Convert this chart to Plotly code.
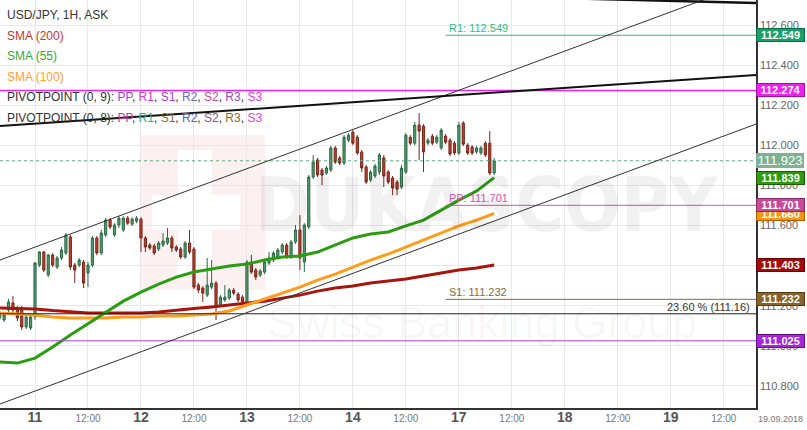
import plotly.graph_objects as go

# ---------------- data ----------------
# candle positions: trading hours since 11.09.2018 00:00 (weekend gap removed)
hours = list(range(-8, 105))
opens = [111.139, 111.129, 111.179, 111.214, 111.189, 111.189, 111.094, 111.089,
         111.144, 111.403, 111.468, 111.353, 111.453, 111.393, 111.438, 111.463, 111.543, 111.403,
         111.403, 111.418, 111.363, 111.403, 111.538, 111.463, 111.553, 111.628, 111.553, 111.603,
         111.578, 111.637, 111.607, 111.622, 111.632, 111.538, 111.503, 111.498, 111.483, 111.503,
         111.513, 111.538, 111.493, 111.483, 111.443, 111.513, 111.483, 111.303, 111.288, 111.253,
         111.293, 111.313, 111.204, 111.229, 111.238, 111.278, 111.258, 111.243, 111.214, 111.418,
         111.378, 111.353, 111.368, 111.413, 111.428, 111.443, 111.468, 111.503, 111.443, 111.518,
         111.578, 111.418, 111.593, 111.842, 111.927, 111.877, 111.862, 111.877, 111.987, 111.937,
         111.912, 112.026, 112.066, 112.041, 111.967, 111.892, 111.827, 111.847, 111.867, 111.937,
         111.867, 111.837, 111.817, 111.792, 111.867, 112.041, 112.011, 112.101, 112.096, 112.011,
         112.046, 112.016, 111.987, 112.046, 112.026, 112.011, 111.962, 112.111, 112.001, 111.992,
         111.967, 111.962, 112.011, 112.011, 111.862]
highs = [111.169, 111.164, 111.234, 111.248, 111.199, 111.199, 111.154, 111.149,
         111.418, 111.473, 111.473, 111.458, 111.463, 111.448, 111.493, 111.563, 111.553, 111.413,
         111.438, 111.428, 111.418, 111.548, 111.548, 111.578, 111.637, 111.637, 111.612, 111.647,
         111.647, 111.647, 111.642, 111.647, 111.642, 111.548, 111.513, 111.508, 111.523, 111.563,
         111.588, 111.548, 111.503, 111.493, 111.523, 111.578, 111.493, 111.313, 111.298, 111.438,
         111.428, 111.323, 111.253, 111.303, 111.288, 111.288, 111.268, 111.253, 111.428, 111.453,
         111.388, 111.383, 111.428, 111.468, 111.473, 111.488, 111.513, 111.513, 111.528, 111.603,
         111.652, 111.612, 111.852, 111.952, 111.937, 111.887, 111.897, 111.997, 111.997, 111.947,
         112.051, 112.061, 112.076, 112.051, 111.977, 111.902, 111.877, 111.907, 111.962, 111.952,
         111.877, 111.847, 111.827, 111.902, 112.061, 112.051, 112.116, 112.161, 112.106, 112.036,
         112.056, 112.051, 112.086, 112.056, 112.036, 112.021, 112.116, 112.121, 112.011, 112.001,
         111.997, 111.997, 112.021, 112.071, 111.937]
lows = [111.129, 111.119, 111.169, 111.164, 111.124, 111.079, 111.084, 111.079,
        111.129, 111.393, 111.368, 111.343, 111.393, 111.383, 111.428, 111.453, 111.378, 111.313,
        111.393, 111.288, 111.293, 111.393, 111.453, 111.453, 111.543, 111.583, 111.543, 111.588,
        111.568, 111.603, 111.598, 111.612, 111.468, 111.468, 111.478, 111.453, 111.473, 111.493,
        111.503, 111.468, 111.468, 111.433, 111.433, 111.458, 111.283, 111.263, 111.219, 111.243,
        111.283, 111.129, 111.194, 111.219, 111.229, 111.253, 111.219, 111.209, 111.204, 111.358,
        111.328, 111.343, 111.358, 111.403, 111.418, 111.433, 111.458, 111.433, 111.433, 111.508,
        111.378, 111.368, 111.583, 111.832, 111.842, 111.802, 111.852, 111.867, 111.907, 111.902,
        111.902, 112.016, 112.001, 111.952, 111.867, 111.807, 111.817, 111.837, 111.852, 111.792,
        111.807, 111.752, 111.752, 111.782, 111.857, 112.001, 112.001, 111.927, 111.867, 112.001,
        112.001, 112.006, 111.977, 112.006, 111.947, 111.952, 111.952, 111.997, 111.952, 111.952,
        111.957, 111.952, 111.942, 111.852, 111.852]
closes = [111.164, 111.154, 111.219, 111.179, 111.139, 111.094, 111.144, 111.144,
          111.413, 111.468, 111.378, 111.453, 111.403, 111.438, 111.478, 111.553, 111.393, 111.378,
          111.428, 111.313, 111.403, 111.538, 111.463, 111.563, 111.628, 111.593, 111.603, 111.637,
          111.637, 111.612, 111.632, 111.637, 111.538, 111.493, 111.488, 111.463, 111.513, 111.523,
          111.538, 111.488, 111.478, 111.443, 111.513, 111.468, 111.293, 111.278, 111.263, 111.303,
          111.313, 111.194, 111.243, 111.243, 111.278, 111.263, 111.229, 111.219, 111.418, 111.368,
          111.343, 111.373, 111.418, 111.438, 111.463, 111.478, 111.503, 111.443, 111.518, 111.578,
          111.438, 111.603, 111.842, 111.917, 111.852, 111.852, 111.887, 111.987, 111.917, 111.912,
          112.041, 112.051, 112.011, 111.962, 111.887, 111.817, 111.867, 111.897, 111.952, 111.847,
          111.817, 111.787, 111.782, 111.887, 112.051, 112.011, 112.101, 112.071, 111.967, 112.026,
          112.011, 112.041, 112.076, 112.016, 111.957, 111.962, 112.101, 112.006, 111.962, 111.962,
          111.987, 111.987, 111.952, 111.862, 111.923]

sma_hours = list(range(-8, 105, 4))
sma200 = [111.189, 111.186, 111.184, 111.176, 111.169, 111.164, 111.164, 111.164, 111.164, 111.169,
          111.176, 111.186, 111.194, 111.204, 111.213, 111.223, 111.238, 111.253, 111.273, 111.288,
          111.298, 111.313, 111.323, 111.333, 111.348, 111.363, 111.378, 111.388, 111.403]
sma55 = [110.919, 110.914, 110.939, 110.994, 111.054, 111.109, 111.164, 111.223, 111.268, 111.308,
         111.343, 111.368, 111.383, 111.398, 111.408, 111.428, 111.443, 111.448, 111.468, 111.503,
         111.538, 111.558, 111.568, 111.598, 111.627, 111.677, 111.727, 111.772, 111.839]
sma100 = [111.164, 111.159, 111.154, 111.144, 111.139, 111.139, 111.139, 111.144, 111.144, 111.149,
          111.149, 111.154, 111.159, 111.174, 111.204, 111.233, 111.263, 111.293, 111.328, 111.358,
          111.393, 111.428, 111.458, 111.493, 111.528, 111.563, 111.598, 111.627, 111.660]

x_tick_hours = [0, 12, 24, 36, 48, 60, 72, 84, 96, 108, 120, 132, 144, 156]
x_tick_labels = ["11", "12:00", "12", "12:00", "13", "12:00", "14", "12:00",
                 "17", "12:00", "18", "12:00", "19", "12:00"]
y_ticks = [110.8, 111.0, 111.2, 111.4, 111.6, 111.8, 112.0, 112.2, 112.4, 112.6]

pivot_names = ["R1", "PP", "S1"]
pivot_values = [112.549, 111.701, 111.232]
pivot_colors = ["#2fbf82", "#d055ad", "#8b6a35"]
pivot_start_hour = 93

current_price = 111.923
level_magenta = 112.274
level_purple = 111.025
fib_value = 111.16
fib_label = "23.60 % (111.16)"
date_label = "19.09.2018"

# trend lines: prices at the left and right edge of the chart
channel_upper = [111.428, 112.823]
channel_lower = [110.710, 112.106]
thick_line = [112.096, 112.351]
top_line_hours = [100, 163.3]
top_line = [112.745, 112.710]

# right axis price tags: value, background, border
price_tags = [
    (112.549, "#17a06a", "#0d6a45"),
    (112.274, "#ee22ee", "#a010a0"),
    (111.839, "#2e9a0e", "#1b5e08"),
    (111.660, "#f7950f", "#a86000"),
    (111.701, "#c8489a", "#862a64"),
    (111.403, "#a50a0a", "#600000"),
    (111.232, "#87642b", "#553d15"),
    (111.025, "#a526d6", "#651090"),
]

legend_lines = [
    [("USD/JPY, 1H, ASK", "#333333")],
    [("SMA (200)", "#c8352a")],
    [("SMA (55)", "#3aa63a")],
    [("SMA (100)", "#ff9d2a")],
    [("PIVOTPOINT (0, 9): ", "#333333"), ("PP", "#a640e0"), (", ", "#333333"), ("R1", "#d23cc0"),
     (", ", "#333333"), ("S1", "#b040d8"), (", ", "#333333"), ("R2", "#6a6ad0"), (", ", "#333333"),
     ("S2", "#c84a9a"), (", ", "#333333"), ("R3", "#9050c0"), (", ", "#333333"), ("S3", "#e040e0")],
    [("PIVOTPOINT (0, 8): ", "#333333"), ("PP", "#c03c9a"), (", ", "#333333"), ("R1", "#20b080"),
     (", ", "#333333"), ("S1", "#8b6a35"), (", ", "#333333"), ("R2", "#5060c0"), (", ", "#333333"),
     ("S2", "#885088"), (", ", "#333333"), ("R3", "#8b6a35"), (", ", "#333333"), ("S3", "#e040e0")],
]

# ---------------- layout constants ----------------
W, H = 807, 430
ML, MR, MT, MB = 0, 51, 0, 22
PLOT_W = W - ML - MR
PLOT_H = H - MT - MB
XL, XR = -7.93, 163.3
YLO, YHI = 110.690, 112.725
FONT = 'Arial, "Liberation Sans", sans-serif'

fig = go.Figure()

# SMA lines
fig.add_trace(go.Scatter(x=sma_hours, y=sma200, mode="lines", line=dict(color="#a8140e", width=3),
                         hoverinfo="skip"))
fig.add_trace(go.Scatter(x=sma_hours, y=sma100, mode="lines", line=dict(color="#ff9c1a", width=3),
                         hoverinfo="skip"))
fig.add_trace(go.Scatter(x=sma_hours, y=sma55, mode="lines", line=dict(color="#2a9d12", width=3),
                         hoverinfo="skip"))

# candles
fig.add_trace(go.Candlestick(
    x=hours, open=opens, high=highs, low=lows, close=closes,
    increasing=dict(line=dict(color="#2d6a45", width=1), fillcolor="#4f9b6d"),
    decreasing=dict(line=dict(color="#7a2418", width=1), fillcolor="#b5412f"),
    whiskerwidth=0, hoverinfo="skip"))

shapes = []

# watermark (logo + text)
def px_to_paper(xp, yp):
    return xp / PLOT_W, 1 - yp / PLOT_H

x0, y0 = px_to_paper(140, 135)
x1, y1 = px_to_paper(265, 290)
shapes.append(dict(type="rect", xref="paper", yref="paper", x0=x0, x1=x1, y0=y1, y1=y0,
                   fillcolor="rgba(220,90,90,0.09)", line=dict(width=0), layer="below"))
x0, y0 = px_to_paper(178, 150)
x1, y1 = px_to_paper(212, 275)
shapes.append(dict(type="rect", xref="paper", yref="paper", x0=x0, x1=x1, y0=y1, y1=y0,
                   fillcolor="white", line=dict(width=0), layer="below"))
x0, y0 = px_to_paper(152, 195)
x1, y1 = px_to_paper(240, 230)
shapes.append(dict(type="rect", xref="paper", yref="paper", x0=x0, x1=x1, y0=y1, y1=y0,
                   fillcolor="white", line=dict(width=0), layer="below"))

# full width levels
shapes.append(dict(type="line", xref="paper", yref="y", x0=0, x1=1, y0=level_magenta, y1=level_magenta,
                   line=dict(color="#ee22ee", width=1.5)))
shapes.append(dict(type="line", xref="paper", yref="y", x0=0, x1=1, y0=level_purple, y1=level_purple,
                   line=dict(color="#a640d8", width=1)))
shapes.append(dict(type="line", xref="paper", yref="y", x0=0, x1=1, y0=fib_value, y1=fib_value,
                   line=dict(color="#222222", width=1)))
shapes.append(dict(type="line", xref="paper", yref="y", x0=0, x1=1, y0=current_price, y1=current_price,
                   line=dict(color="#5aaa7e", width=1, dash="dot")))

# pivot levels
for v, c in zip(pivot_values, pivot_colors):
    shapes.append(dict(type="line", xref="x", yref="y", x0=pivot_start_hour, x1=XR, y0=v, y1=v,
                       line=dict(color=c, width=1)))

# trend lines
shapes.append(dict(type="line", xref="x", yref="y", x0=XL, x1=XR, y0=channel_upper[0], y1=channel_upper[1],
                   line=dict(color="#333333", width=1)))
shapes.append(dict(type="line", xref="x", yref="y", x0=XL, x1=XR, y0=channel_lower[0], y1=channel_lower[1],
                   line=dict(color="#333333", width=1)))
shapes.append(dict(type="line", xref="x", yref="y", x0=XL, x1=XR, y0=thick_line[0], y1=thick_line[1],
                   line=dict(color="#111111", width=2)))
shapes.append(dict(type="line", xref="x", yref="y", x0=top_line_hours[0], x1=top_line_hours[1],
                   y0=top_line[0], y1=top_line[1], line=dict(color="#111111", width=2.5)))

annotations = []

# watermark text
annotations.append(dict(xref="paper", yref="paper", x=px_to_paper(487, 0)[0], y=px_to_paper(0, 205)[1],
                        text="<b>DUKASCOPY</b>", showarrow=False, xanchor="center", yanchor="middle",
                        font=dict(family='"DejaVu Sans Condensed", "Liberation Sans Narrow", sans-serif',
                                  size=74, color="rgba(0,0,0,0.055)")))
annotations.append(dict(xref="paper", yref="paper", x=px_to_paper(482, 0)[0], y=px_to_paper(0, 322)[1],
                        text="Swiss Banking Group", showarrow=False, xanchor="center", yanchor="middle",
                        font=dict(family=FONT, size=45, color="rgba(0,0,0,0.035)")))

# legend text (top-left)
legend_y = [15, 36, 56, 77, 97, 118]
for parts, yp in zip(legend_lines, legend_y):
    txt = "".join(f'<span style="color:{c}">{t}</span>' for t, c in parts)
    annotations.append(dict(xref="paper", yref="paper", x=0, xshift=5, y=1 - yp / PLOT_H,
                            text=txt, showarrow=False, xanchor="left", yanchor="middle",
                            font=dict(family=FONT, size=12, color="#333333")))

# pivot labels
for n, v, c in zip(pivot_names, pivot_values, pivot_colors):
    annotations.append(dict(xref="x", yref="y", x=pivot_start_hour, xshift=1, y=v, yshift=-1,
                            text=f"{n}: {v:.3f}", showarrow=False, xanchor="left", yanchor="bottom",
                            font=dict(family=FONT, size=11, color=c)))

# fib label
annotations.append(dict(xref="paper", yref="y", x=1, xshift=-4, y=fib_value, yshift=-1,
                        text=fib_label, showarrow=False, xanchor="right", yanchor="bottom",
                        font=dict(family=FONT, size=11, color="#333333")))

# right price tags
for v, bg, bd in price_tags:
    annotations.append(dict(xref="paper", yref="y", x=1, xshift=0, y=v, text=f"<b>{v:.3f}</b>",
                            showarrow=False, xanchor="left", yanchor="middle", width=45, height=10,
                            bgcolor=bg, bordercolor=bd, borderwidth=1, borderpad=1, align="center",
                            font=dict(family=FONT, size=11, color="white")))
annotations.append(dict(xref="paper", yref="y", x=1, xshift=0, y=current_price, text=f"{current_price:.3f}",
                        showarrow=False, xanchor="left", yanchor="middle", width=46, height=13,
                        bgcolor="#7db392", bordercolor="#7db392", borderwidth=1, borderpad=0, align="center",
                        font=dict(family=FONT, size=13, color="white")))

# date at right end of the time axis
annotations.append(dict(xref="paper", yref="paper", x=1, xshift=0, y=0, yshift=-4,
                        text=date_label, showarrow=False, xanchor="left", yanchor="top",
                        font=dict(family=FONT, size=9, color="#777777")))

tick_text = []
for t in x_tick_labels:
    if ":" in t:
        tick_text.append(t)
    else:
        tick_text.append(f'<span style="font-size:14px;color:#555555"><b>{t}</b></span>')

fig.update_layout(
    width=W, height=H, margin=dict(l=ML, r=MR, t=MT, b=MB),
    paper_bgcolor="white", plot_bgcolor="white", showlegend=False,
    font=dict(family=FONT), shapes=shapes, annotations=annotations, hovermode=False,
)
fig.update_xaxes(range=[XL, XR], tickmode="array", tickvals=x_tick_hours, ticktext=tick_text,
                 showgrid=True, gridcolor="#e8e8e8", gridwidth=1, zeroline=False,
                 showline=True, linecolor="#333333", linewidth=1.5, ticks="",
                 tickfont=dict(family=FONT, size=10, color="#777777"),
                 rangeslider=dict(visible=False), fixedrange=True)
fig.update_yaxes(range=[YLO, YHI], side="right", tickmode="array", tickvals=y_ticks, tickformat=".3f",
                 showgrid=True, gridcolor="#e8e8e8", gridwidth=1, zeroline=False,
                 showline=True, linecolor="#333333", linewidth=1.5, ticks="",
                 tickfont=dict(family=FONT, size=11, color="#666666"), fixedrange=True)

fig.write_html("out.html", config={"displayModeBar": False},
               post_script="document.body.style.margin='0px';document.body.style.padding='0px';")
